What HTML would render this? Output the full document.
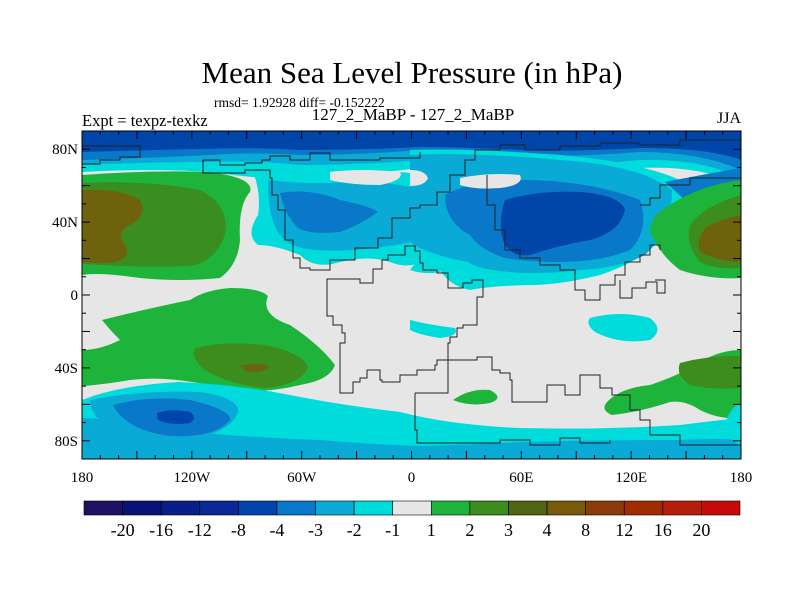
<!DOCTYPE html>
<html><head><meta charset="utf-8">
<style>
html,body{margin:0;padding:0;background:#fff;}
svg{display:block;font-family:"Liberation Serif",serif;}
</style></head>
<body>
<svg width="800" height="600" viewBox="0 0 800 600">
<defs><clipPath id="mapclip"><rect x="82" y="131" width="659" height="328"/></clipPath></defs>
<text x="412" y="83" text-anchor="middle" font-size="31">Mean Sea Level Pressure (in hPa)</text>
<text x="214" y="107" font-size="13.5">rmsd= 1.92928 diff= -0.152222</text>
<text x="413" y="120" text-anchor="middle" font-size="17">127_2_MaBP - 127_2_MaBP</text>
<text x="82" y="126" font-size="16.5">Expt = texpz-texkz</text>
<text x="741" y="123" text-anchor="end" font-size="16">JJA</text>

<g clip-path="url(#mapclip)">
<rect x="82" y="131" width="659" height="328" fill="#e6e6e6"/>
<path d="M82 131H741V185Q700 165 640 168Q560 175 520 175Q460 175 420 168Q360 175 300 180Q250 178 210 172Q150 168 82 172Z" fill="#00dcdc"/>
<path d="M82 131H741V178Q700 158 640 160Q560 168 520 165Q460 160 420 160Q360 165 300 165Q250 160 210 162Q150 162 82 165Z" fill="#0aaad7"/>
<path d="M82 131H741V170Q700 152 640 152Q560 158 520 155Q460 150 420 150Q360 155 300 155Q250 152 210 155Q150 158 82 160Z" fill="#0a78c8"/>
<path d="M82 131H741V160Q710 148 640 148Q560 152 520 150Q460 147 420 147Q360 150 300 150Q250 147 200 149Q150 150 82 152Z" fill="#0046aa"/>
<path d="M250 165Q300 170 350 172Q400 170 425 175L425 260Q410 270 390 262Q370 255 340 262Q315 270 300 255Q275 245 258 245Q245 235 258 215Q262 190 250 165Z" fill="#00dcdc"/>
<path d="M268 180Q310 185 350 182Q400 182 420 190L420 240Q400 245 375 248Q340 252 315 250Q290 248 280 235Q268 220 268 180Z" fill="#0aaad7"/>
<path d="M280 193Q310 188 340 200Q370 206 378 212Q360 225 340 232Q310 235 298 228Q285 215 280 193Z" fill="#0a78c8"/>
<path d="M330 172Q360 168 400 172Q405 180 380 185Q350 185 330 180Z" fill="#e6e6e6"/>
<path d="M410 150Q470 148 560 155Q640 162 680 180Q690 215 660 240Q640 262 600 275Q560 285 530 285Q490 286 470 290Q450 286 440 270Q420 262 410 260Z" fill="#00dcdc"/>
<path d="M410 155Q470 152 560 160Q640 165 672 190Q672 230 645 255Q620 268 580 270Q540 275 510 272Q480 270 468 262Q445 258 430 252Q410 245 410 240Z" fill="#0aaad7"/>
<path d="M445 195Q470 180 520 180Q590 180 640 200Q650 230 630 250Q600 262 560 262Q530 262 505 258Q480 250 470 235Q445 222 445 195Z" fill="#0a78c8"/>
<path d="M505 200Q540 190 580 192Q620 195 625 210Q620 232 590 240Q560 245 530 255Q510 258 503 240Q498 220 505 200Z" fill="#0046aa"/>
<path d="M460 178Q490 172 520 175Q525 185 500 188Q475 190 460 185Z" fill="#e6e6e6"/>
<path d="M410 170Q425 170 428 178Q425 186 410 186Z" fill="#e6e6e6"/>
<path d="M665 182Q700 175 741 168V185Q710 190 690 205Q680 195 665 182Z" fill="#0a78c8"/>
<path d="M82 175Q150 170 210 172Q255 178 250 192Q238 205 240 240Q238 265 220 278Q180 282 140 278Q100 272 82 275Z" fill="#1eb43c"/>
<path d="M82 183Q150 180 200 190Q230 205 225 235Q215 262 190 266Q140 268 82 264Z" fill="#3c8c1e" opacity="0.95"/>
<path d="M82 190Q120 188 140 200Q148 215 130 225Q115 232 125 245Q132 258 115 262Q95 264 82 262Z" fill="#785a0a" opacity="0.85"/>
<path d="M741 180V278Q710 280 680 270Q660 255 650 232Q650 215 670 205Q700 185 741 180Z" fill="#1eb43c"/>
<path d="M741 195V268Q715 270 700 262Q685 245 690 225Q705 205 741 195Z" fill="#3c8c1e"/>
<path d="M741 215V262Q720 262 700 252Q695 235 710 225Q725 218 741 215Z" fill="#785a0a" opacity="0.85"/>
<path d="M102 320Q150 308 190 300Q205 290 230 288Q260 288 268 296Q260 315 290 325Q320 345 335 365Q330 380 300 385Q260 395 220 388Q170 375 130 380Q100 385 82 386V350Q100 350 120 340Q110 330 102 320Z" fill="#1eb43c"/>
<path d="M195 348Q230 340 270 346Q305 355 308 368Q300 385 265 388Q230 385 205 370Q190 358 195 348Z" fill="#3c8c1e"/>
<path d="M240 366Q255 362 270 366Q265 373 248 372Z" fill="#785a0a" opacity="0.8"/>
<path d="M82 400Q120 385 180 382Q240 385 290 395Q340 405 400 412Q450 425 520 428Q600 430 680 425Q720 420 741 418V459H82Z" fill="#00dcdc"/>
<path d="M82 418Q140 420 190 432Q260 438 320 440Q380 445 420 446Q470 445 520 442Q600 440 680 440Q720 438 741 440V459H82Z" fill="#0aaad7"/>
<path d="M90 400Q140 390 200 392Q240 398 238 412Q232 430 200 437Q150 440 115 430Q90 418 90 400Z" fill="#0aaad7"/>
<path d="M113 405Q150 395 190 400Q232 410 230 420Q215 438 170 436Q125 430 113 405Z" fill="#0a78c8"/>
<path d="M157 413Q170 408 190 412Q198 418 190 423Q170 426 158 420Z" fill="#0046aa"/>
<path d="M607 402Q620 388 650 385Q680 375 700 362Q720 350 741 350V418Q720 420 700 410Q685 400 670 402Q640 412 612 415Q600 410 607 402Z" fill="#1eb43c"/>
<path d="M680 363Q710 355 741 356V388Q710 390 690 385Q675 375 680 363Z" fill="#3c8c1e"/>
<path d="M453 400Q470 388 490 390Q505 398 490 403Q470 407 453 400Z" fill="#1eb43c"/>
<path d="M590 318Q620 310 650 318Q665 330 650 340Q620 345 595 332Q585 324 590 318Z" fill="#00dcdc"/>
<path d="M741 403V445Q728 440 726 425Q728 408 741 403Z" fill="#00dcdc"/>
<path d="M410 320Q430 325 455 328Q460 336 440 338Q420 335 410 330Z" fill="#00dcdc"/>
<path d="M410 270Q420 255 440 258Q450 262 440 272Q425 275 410 270Z" fill="#00dcdc"/>
<path d="M374 250Q390 245 405 248Q410 260 395 262Q380 260 374 250Z" fill="#00dcdc"/>
<g fill="none" stroke="#222" stroke-width="1">
<path d="M327 288V279H340V279H360V283H373V269H382V260H388V255H405V246H415V251H420V263H423V270H437V273H448V288H463V283H472V280H483V297H477V325H463V328H457V337H450V343H448V360H437V365H435V370H417V375H400V382H382V380H380V370H368V370H367V378H360V382H353V393H340V343H345V333H342V325H333V316H327Z"/>
<path d="M415 393H448V360H477V357H492V370H500V373H510V380H512V402H547V385H565V395H580V375H600V388H612V395H630V410H640V420H650V435H680V445H741M415 393V430H417V443H500V440H530V445H560V438H580V443H610V440"/>
<path d="M203 160V173H245V170H262V170H270V178H272V195H278V210H285V240H293V258H300V268H310V270H330V260H355V248H378V238H392V218H410V208H420V205"/>
<path d="M82 164H100V160H120V157H140V146H82"/>
<path d="M203 160H220V165H245V163H262V160H270V156H290V160H310V153H330V160H360V160H380V158H420V152"/>
<path d="M420 205H437V192H450V175H465V160H475V150H500V145H525V150H560V146H600V143H640V145H680V140H741"/>
<path d="M487 175V205H495V230H505V250H520V258H540V265H560V270H575V290H585V300H600V285H615V275H625V262H640V255H650V245H660V250"/>
<path d="M620 280V298H632V288H646V282H657V293H665V280H655"/>
<path d="M640 205H650V198H660V185H690V178H741"/>
</g>
</g>
<rect x="82" y="131" width="659" height="328" fill="none" stroke="#000" stroke-width="1"/>
<g id="ticks" stroke="#000" stroke-width="1"></g>
<g id="axlabels" font-size="15"></g>
<g id="cbar"></g>
</svg>
<script>
const levels=["-20","-16","-12","-8","-4","-3","-2","-1","1","2","3","4","8","12","16","20"];
const colors=["#1e1064","#0a1478","#0a1e8a","#0a2896","#0046aa","#0a78c8","#0aaad7","#00dcdc","#e6e6e6","#1eb43c","#3c8c1e","#506414","#785a0a","#8c3c0a","#a02d00","#b41e0a","#c80a0a"];
const latLabels=["80N","40N","0","40S","80S"];
const latValues=[80,40,0,-40,-80];
const lonLabels=["180","120W","60W","0","60E","120E","180"];
const lonValues=[-180,-120,-60,0,60,120,180];
const NS="http://www.w3.org/2000/svg";
const X0=82,X1=741,Y0=131,Y1=459;
function xOf(lon){return X0+(lon+180)/360*(X1-X0);}
function yOf(lat){return Y0+(90-lat)/180*(Y1-Y0);}
function mk(t,a,p){const e=document.createElementNS(NS,t);for(const k in a)e.setAttribute(k,a[k]);p.appendChild(e);return e;}
const tk=document.getElementById('ticks'),al=document.getElementById('axlabels'),cb=document.getElementById('cbar');
for(let lon=-180;lon<=180;lon+=10){const x=xOf(lon),L=(lon%30===0)?8:4;
 const a=mk('line',{x1:x,y1:Y1,x2:x,y2:Y1-L},tk);
 
 
 const b=mk('line',{x1:x,y1:Y0,x2:x,y2:Y0+L},tk);
 
 }
for(let lat=-90;lat<=90;lat+=10){const y=yOf(lat),L=(lat%20===0)?8:4;
 const a=mk('line',{x1:X0,y1:y,x2:X0+L,y2:y},tk);
 
 
 const b=mk('line',{x1:X1,y1:y,x2:X1-L,y2:y},tk);
 
 }
latValues.forEach((v,i)=>{const t=mk('text',{x:78,y:yOf(v)+5,'text-anchor':'end'},al);t.textContent=latLabels[i];
 
 });
lonValues.forEach((v,i)=>{const t=mk('text',{x:xOf(v),y:482,'text-anchor':'middle'},al);t.textContent=lonLabels[i];
 
 });
const CX0=84,CX1=740,CY=501,CH=14,w=(CX1-CX0)/colors.length;
colors.forEach((c,i)=>{const r=mk('rect',{x:CX0+i*w,y:CY,width:w,height:CH,fill:c,stroke:'#000','stroke-width':0.6},cb);
 
 });
levels.forEach((l,i)=>{const t=mk('text',{x:CX0+(i+1)*w,y:536,'text-anchor':'middle','font-size':18},cb);t.textContent=l;
 
 });
</script>
</body></html>
